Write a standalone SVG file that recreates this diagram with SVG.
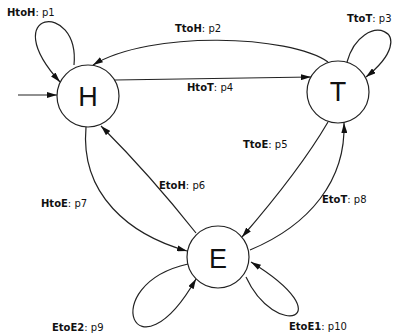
<svg xmlns="http://www.w3.org/2000/svg" width="402" height="336" viewBox="0 0 402 336">
<style>
.node{fill:#fff;stroke:#222;stroke-width:1.2}
.big{font-family:"Liberation Sans",Arial,sans-serif;font-size:27px;fill:#111;text-anchor:middle}
.lbl{font-family:"DejaVu Sans",sans-serif;font-size:10px;fill:#111}
.lbl tspan.b{font-weight:bold}
.edge{fill:none;stroke:#222;stroke-width:1.2;marker-end:url(#arr)}
</style>
<defs>
<marker id="arr" viewBox="0 0 10 6" refX="10" refY="3" markerWidth="10" markerHeight="6" markerUnits="userSpaceOnUse" orient="auto">
<path d="M0,0 L10,3 L0,6 Z" fill="#111"/>
</marker>
</defs>
<rect width="402" height="336" fill="#fff"/>
<g id="connectors">
<path class="edge" d="M18,95 L57,95"/>
<path class="edge" d="M74,65 C80,0 -5,10 60,82"/>
<path class="edge" d="M328,62 C290,35 150,30 93,65"/>
<path class="edge" d="M115,80 L311,77"/>
<path class="edge" d="M347,62 C362,8 425,30 366,77"/>
<path class="edge" d="M328,122 Q300,170 242,237"/>
<path class="edge" d="M250,250 C310,225 346,180 344,123"/>
<path class="edge" d="M86,127 C80,195 130,235 187,251"/>
<path class="edge" d="M196,233 Q150,175 101,126"/>
<path class="edge" d="M188,264 C95,285 135,385 196,279"/>
<path class="edge" d="M246,277 C275,340 345,320 251,262"/>
</g>
<g id="H"><circle class="node" cx="88" cy="96" r="31"/><text class="big" x="88" y="106">H</text></g>
<g id="T"><circle class="node" cx="338" cy="92" r="31"/><text class="big" x="338" y="101">T</text></g>
<g id="E"><circle class="node" cx="218" cy="257" r="31"/><text class="big" x="218" y="268">E</text></g>
<g id="labels">
<text class="lbl" x="7" y="16"><tspan class="b">HtoH</tspan>: p1</text>
<text class="lbl" x="175" y="32"><tspan class="b">TtoH</tspan>: p2</text>
<text class="lbl" x="347" y="22"><tspan class="b">TtoT</tspan>: p3</text>
<text class="lbl" x="187" y="91"><tspan class="b">HtoT</tspan>: p4</text>
<text class="lbl" x="243" y="148"><tspan class="b">TtoE</tspan>: p5</text>
<text class="lbl" x="159" y="189"><tspan class="b">EtoH</tspan>: p6</text>
<text class="lbl" x="41" y="207"><tspan class="b">HtoE</tspan>: p7</text>
<text class="lbl" x="322" y="203"><tspan class="b">EtoT</tspan>: p8</text>
<text class="lbl" x="52" y="331"><tspan class="b">EtoE2</tspan>: p9</text>
<text class="lbl" x="289" y="330"><tspan class="b">EtoE1</tspan>: p10</text>
</g>
</svg>
